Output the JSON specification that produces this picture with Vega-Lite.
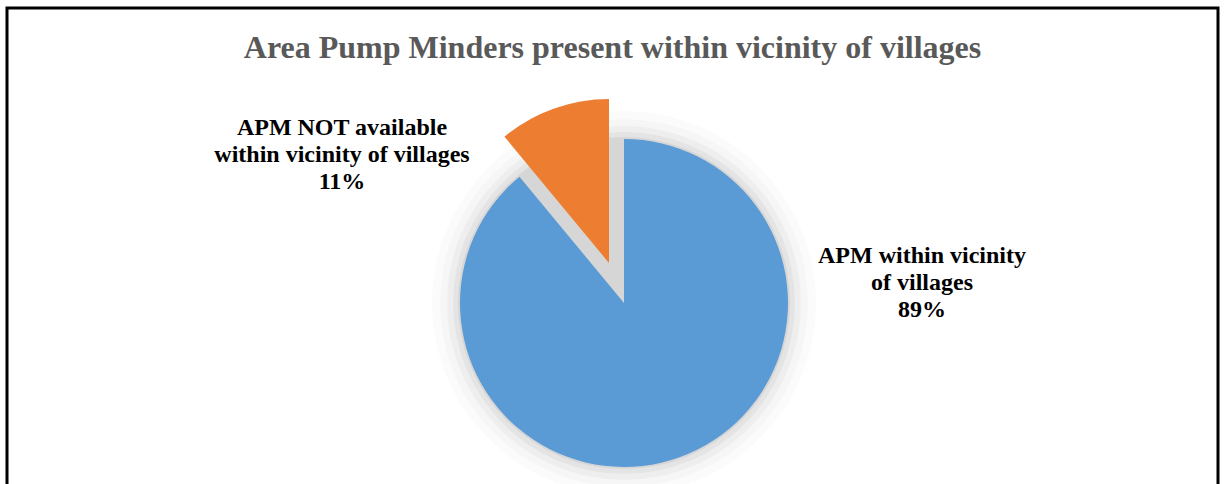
{
  "$schema": "https://vega.github.io/schema/vega-lite/v6.json",
  "width": 1211,
  "height": 480,
  "autosize": {"type": "none"},
  "padding": {"left": 7, "top": 8, "right": 6, "bottom": 0},
  "background": "#ffffff",
  "config": {"view": {"stroke": "#000000", "strokeWidth": 3}},
  "title": {
    "text": "Area Pump Minders present within vicinity of villages",
    "font": "Liberation Serif",
    "fontSize": 32,
    "fontWeight": "bold",
    "color": "#595959",
    "anchor": "middle",
    "frame": "group",
    "offset": -57
  },
  "data": {
    "values": [
      {"category": "APM within vicinity of villages", "value": 89, "ord": 1, "label": "APM within vicinity\nof villages\n89%"},
      {"category": "APM NOT available within vicinity of villages", "value": 11, "ord": 2, "label": "APM NOT available\nwithin vicinity of villages\n11%"}
    ]
  },
  "layer": [
    {
      "data": {"values": [{"s": 0}]},
      "mark": {"type": "point", "opacity": 0},
      "encoding": {
        "x": {"field": "s", "type": "quantitative", "axis": null},
        "y": {"field": "s", "type": "quantitative", "axis": null}
      }
    },
    {
      "data": {"values": [{"s": 1}]},
      "mark": {"type": "arc", "radius": 192, "fill": "#000000", "fillOpacity": 0.015, "xOffset": 11.5, "yOffset": 55},
      "encoding": {}
    },
    {
      "data": {"values": [{"s": 1}]},
      "mark": {"type": "arc", "radius": 184, "fill": "#000000", "fillOpacity": 0.02, "xOffset": 11.5, "yOffset": 55},
      "encoding": {}
    },
    {
      "data": {"values": [{"s": 1}]},
      "mark": {"type": "arc", "radius": 177, "fill": "#000000", "fillOpacity": 0.03, "xOffset": 11.5, "yOffset": 55},
      "encoding": {}
    },
    {
      "data": {"values": [{"s": 1}]},
      "mark": {"type": "arc", "radius": 171, "fill": "#000000", "fillOpacity": 0.04, "xOffset": 11.5, "yOffset": 55},
      "encoding": {}
    },
    {
      "data": {"values": [{"s": 1}]},
      "mark": {"type": "arc", "radius": 166, "fill": "#000000", "fillOpacity": 0.06, "xOffset": 11.5, "yOffset": 55},
      "encoding": {}
    },
    {
      "mark": {"type": "arc", "radius": 164, "xOffset": 11.5, "yOffset": 55},
      "encoding": {
        "theta": {"field": "value", "type": "quantitative", "stack": true},
        "order": {"field": "ord", "type": "quantitative"},
        "color": {
          "field": "category",
          "type": "nominal",
          "scale": {"domain": ["APM within vicinity of villages", "APM NOT available within vicinity of villages"], "range": ["#5B9BD5", "#ED7D31"]},
          "legend": null
        },
        "fillOpacity": {
          "condition": {"test": "datum.ord === 2", "value": 0},
          "value": 1
        }
      }
    },
    {
      "mark": {"type": "arc", "radius": 164, "xOffset": -3.5, "yOffset": 15},
      "encoding": {
        "theta": {"field": "value", "type": "quantitative", "stack": true},
        "order": {"field": "ord", "type": "quantitative"},
        "color": {
          "field": "category",
          "type": "nominal",
          "scale": {"domain": ["APM within vicinity of villages", "APM NOT available within vicinity of villages"], "range": ["#5B9BD5", "#ED7D31"]},
          "legend": null
        },
        "fillOpacity": {
          "condition": {"test": "datum.ord === 1", "value": 0},
          "value": 1
        }
      }
    },
    {
      "transform": [{"filter": "datum.ord === 1"}],
      "mark": {"type": "text", "font": "Liberation Serif", "fontSize": 24, "fontWeight": "bold", "color": "#000000", "lineBreak": "\n", "lineHeight": 27, "align": "center", "baseline": "middle", "xOffset": 309.5, "yOffset": 8},
      "encoding": {"text": {"field": "label"}}
    },
    {
      "transform": [{"filter": "datum.ord === 2"}],
      "mark": {"type": "text", "font": "Liberation Serif", "fontSize": 24, "fontWeight": "bold", "color": "#000000", "lineBreak": "\n", "lineHeight": 27, "align": "center", "baseline": "middle", "xOffset": -270.5, "yOffset": -120},
      "encoding": {"text": {"field": "label"}}
    }
  ]
}
